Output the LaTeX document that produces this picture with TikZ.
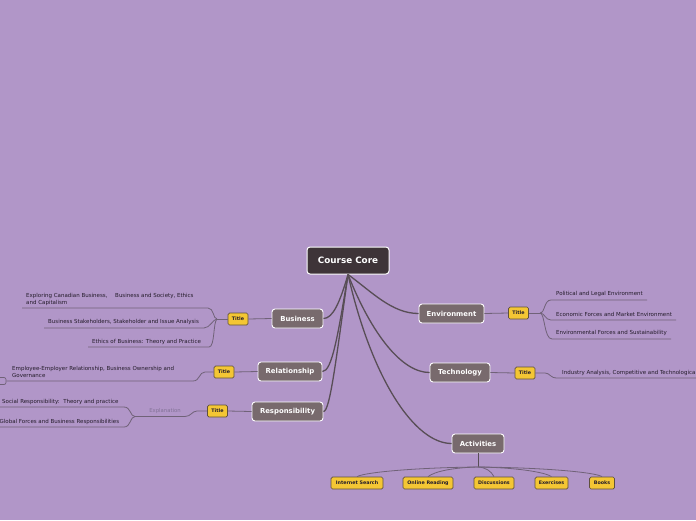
\documentclass[tikz,border=0pt]{standalone}
\usepackage{fontspec}
\setmainfont{DejaVu Sans}
\definecolor{bg}{RGB}{177,150,200}
\definecolor{coreC}{RGB}{62,52,56}
\definecolor{mainC}{RGB}{120,106,109}
\definecolor{ylw}{RGB}{244,198,52}
\definecolor{ylwB}{RGB}{95,80,60}
\definecolor{connC}{RGB}{88,78,86}
\definecolor{subC}{RGB}{112,98,120}
\definecolor{leafT}{RGB}{36,28,42}
\definecolor{explT}{RGB}{130,114,150}
\tikzset{
  core/.style={draw=white, line width=1pt, fill=coreC, rounded corners=3pt, text=white,
    font=\bfseries\fontsize{8.8}{10}\selectfont, minimum width=82, minimum height=27, inner sep=0},
  mainn/.style={draw=white, line width=0.9pt, fill=mainC, rounded corners=3pt, text=white,
    font=\bfseries\fontsize{6.9}{8}\selectfont, minimum height=19, inner sep=0},
  ttl/.style={draw=ylwB, line width=0.7pt, fill=ylw, rounded corners=1.5pt, text=leafT,
    font=\bfseries\fontsize{4.8}{5.5}\selectfont, minimum height=12, minimum width=20, inner sep=0},
  leaf/.style={anchor=west, inner sep=0, align=left, text=leafT,
    font=\fontsize{5.5}{6.8}\selectfont},
  expl/.style={inner sep=0, text=explT, font=\fontsize{5.3}{6}\selectfont},
  conn/.style={draw=connC, line width=1.3pt},
  sub/.style={draw=subC, line width=0.8pt},
  hubline/.style={draw=connC, line width=0.9pt},
  smallbox/.style={draw=subC, line width=0.7pt, rounded corners=2pt, minimum width=12, minimum height=7, inner sep=0}
}
\begin{document}
\begin{tikzpicture}[x=1pt,y=-1pt]
\useasboundingbox (0,0) rectangle (696,520);
\clip (0,0) rectangle (696,520);
\fill[bg] (0,0) rectangle (696,520);

% main nodes
\node[core] (core) at (348,260.5) {Course Core};
\node[mainn, minimum width=51] (bus) at (297.5,318.5) {Business};
\node[mainn, minimum width=64] (rel) at (290,371.5) {Relationship};
\node[mainn, minimum width=71] (resp) at (287.5,411.5) {Responsibility};
\node[mainn, minimum width=65] (env) at (451.5,313.5) {Environment};
\node[mainn, minimum width=60] (tech) at (460,372.5) {Technology};
\node[mainn, minimum width=52] (act) at (478,443.5) {Activities};

% title boxes
\node[ttl] (tB) at (238,319) {Title};
\node[ttl] (tR) at (224,372) {Title};
\node[ttl] (tS) at (217.5,411) {Title};
\node[ttl] (tE) at (518.5,313) {Title};
\node[ttl] (tT) at (525,373) {Title};

% activities children
\node[ttl, minimum width=52] (ai) at (357,483) {Internet Search};
\node[ttl, minimum width=50] (ao) at (428,483) {Online Reading};
\node[ttl, minimum width=40] (ad) at (494,483) {Discussions};
\node[ttl, minimum width=33] (ae) at (551.5,483) {Exercises};
\node[ttl, minimum width=25] (ab) at (602,483) {Books};

% main connectors
\draw[conn] (core.south) .. controls (340,302) and (333,318.5) .. (bus.east);
\draw[conn] (core.south) .. controls (338,335) and (332,371.5) .. (rel.east);
\draw[conn] (core.south) .. controls (336,360) and (330,411.5) .. (resp.east);
\draw[conn] (core.south) .. controls (372,292) and (392,313.5) .. (env.west);
\draw[conn] (core.south) .. controls (372,335) and (402,372.5) .. (tech.west);
\draw[conn] (core.south) .. controls (372,380) and (415,443.5) .. (act.west);

% title links
\draw[sub] (bus.west) -- (tB.east);
\draw[sub] (rel.west) -- (tR.east);
\draw[sub] (resp.west) -- (tS.east);
\draw[sub] (env.east) -- (tE.west);
\draw[sub] (tech.east) -- (tT.west);

% Business leaves
\coordinate (bB) at (217,319);
\coordinate (b1e) at (208,308); \coordinate (b1s) at (22,308);
\coordinate (b2e) at (204,328); \coordinate (b2s) at (44,328);
\coordinate (b3e) at (209,347); \coordinate (b3s) at (88,347);
\draw[sub] (tB.west) -- (bB);
\draw[sub] (bB) .. controls (213,319) and (214,308) .. (b1e) -- (b1s);
\draw[sub] (bB) .. controls (213,319) and (210,328) .. (b2e) -- (b2s);
\draw[sub] (bB) .. controls (213,322) and (215,347) .. (b3e) -- (b3s);
\node[leaf] (b1) at (26,299.5) {Exploring Canadian Business,\hspace{1.4em}Business and Society, Ethics\\and Capitalism};
\node[leaf] (b2) at (48,322) {Business Stakeholders, Stakeholder and Issue Analysis};
\node[leaf] (b3) at (92,342) {Ethics of Business: Theory and Practice};

% Relationship leaf
\node[smallbox] (rBox) at (0,381) {};
\coordinate (rB) at (205,372);
\coordinate (r1e) at (193,381);
\draw[sub] (tR.west) -- (rB) .. controls (199,372) and (200,381) .. (r1e) -- (rBox.east);
\node[leaf] (r1) at (12,372) {Employee-Employer Relationship, Business Ownership and\\Governance};

% Responsibility leaves
\coordinate (sA) at (197,411);
\coordinate (sC) at (185,416.5);
\coordinate (sB) at (135,416.5);
\coordinate (s1e) at (124,407); \coordinate (s1s) at (-2,407);
\coordinate (s2e) at (124,427); \coordinate (s2s) at (-2,427);
\draw[sub] (tS.west) -- (sA) .. controls (192,411) and (191,416.5) .. (sC) -- (sB);
\draw[sub] (sB) .. controls (130,416.5) and (131,407) .. (s1e) -- (s1s);
\draw[sub] (sB) .. controls (130,416.5) and (131,427) .. (s2e) -- (s2s);
\node[expl] (ex) at (165,411.5) {Explanation};
\node[leaf] (s1) at (2,402) {Social Responsibility:\ \ Theory and practice};
\node[leaf] (s2) at (-0.5,422) {Global Forces and Business Responsibilities};

% Environment leaves
\coordinate (eB) at (540,313);
\coordinate (e1s) at (551,300); \coordinate (e1e) at (647,300);
\coordinate (e2s) at (551,320); \coordinate (e2e) at (676,320);
\coordinate (e3s) at (552,339); \coordinate (e3e) at (671,339);
\draw[sub] (tE.east) -- (eB);
\draw[sub] (eB) .. controls (545,313) and (544,300) .. (e1s) -- (e1e);
\draw[sub] (eB) .. controls (545,313) and (545,320) .. (e2s) -- (e2e);
\draw[sub] (eB) .. controls (545,313) and (544,339) .. (e3s) -- (e3e);
\node[leaf] (e1) at (556,294) {Political and Legal Environment};
\node[leaf] (e2) at (556,314) {Economic Forces and Market Environment};
\node[leaf] (e3) at (556,333) {Environmental Forces and Sustainability};

% Technology leaf
\coordinate (tA) at (545,373);
\coordinate (t1s) at (557,378); \coordinate (t1e) at (710,378);
\draw[sub] (tT.east) -- (tA) .. controls (550,373) and (550,378) .. (t1s) -- (t1e);
\node[leaf] (t1) at (562,373) {Industry Analysis, Competitive and Technological Analysis};

% Activities fan
\coordinate (aH) at (478,467);
\draw[hubline] (act.south) -- (aH);
\draw[sub] (aH) .. controls (420,467.5) and (365,472) .. (ai.north);
\draw[sub] (aH) .. controls (455,467.5) and (435,471) .. (ao.north);
\draw[sub] (aH) .. controls (486,467.5) and (491,471) .. (ad.north);
\draw[sub] (aH) .. controls (515,467.5) and (545,472) .. (ae.north);
\draw[sub] (aH) .. controls (540,467.5) and (595,472) .. (ab.north);
\end{tikzpicture}
\end{document}
